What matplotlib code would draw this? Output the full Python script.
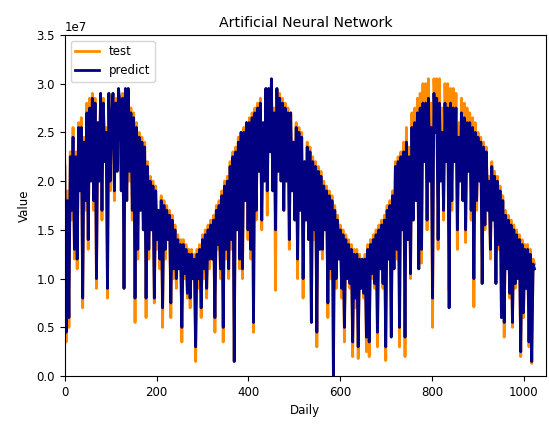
import numpy as np
import matplotlib
matplotlib.use("Agg")
import matplotlib.pyplot as plt

# values in units of 1e7, one every 3 days
test = [
    2.2, 0.35, 1.9, 0.5, 2.3, 1.6, 2.55, 1.2, 2.3, 1.1, 2.6, 1.9, 2.65, 0.7, 2.45, 1.7, 2.8, 1.3, 2.85, 2.0,
    2.9, 1.7, 2.85, 0.9, 2.6, 2.0, 2.9, 1.6, 2.85, 2.2, 2.55, 0.8, 2.9, 1.9, 2.7, 2.9, 1.8, 2.85, 2.1, 2.9,
    2.85, 1.9, 2.9, 0.9, 2.9, 1.8, 2.95, 2.0, 2.75, 1.6, 2.7, 0.55, 2.6, 1.2, 2.5, 1.7, 2.45, 1.5, 2.4, 0.6,
    2.2, 1.2, 2.05, 1.5, 2.0, 0.75, 1.95, 1.3, 1.7, 1.1, 1.85, 0.5, 1.8, 1.2, 1.75, 1.4, 1.7, 0.6, 1.65, 1.0,
    1.55, 0.9, 1.45, 1.1, 1.4, 0.35, 1.4, 1.0, 1.35, 0.8, 1.3, 0.7, 1.3, 1.0, 1.25, 0.15, 1.3, 0.9, 1.35, 0.6,
    1.45, 1.0, 1.5, 0.8, 1.55, 1.1, 1.6, 1.2, 1.65, 0.45, 1.75, 1.3, 1.8, 1.0, 1.9, 0.35, 2.0, 1.2, 2.05, 1.0,
    2.2, 1.3, 2.3, 0.15, 2.35, 1.5, 2.45, 1.1, 2.5, 1.0, 2.55, 1.8, 2.6, 1.4, 2.65, 1.2, 2.7, 0.45, 2.75, 1.6,
    2.8, 2.1, 2.85, 1.5, 2.6, 2.0, 2.95, 1.65, 2.95, 2.3, 3.0, 1.9, 2.75, 0.88, 2.95, 2.1, 2.9, 2.0, 2.85, 1.7,
    2.8, 2.0, 2.75, 1.3, 2.7, 1.9, 2.4, 1.6, 2.6, 1.0, 2.55, 1.7, 2.5, 0.8, 2.2, 1.6, 2.4, 1.4, 2.35, 0.6,
    2.25, 1.4, 2.2, 0.3, 2.15, 1.3, 2.1, 1.2, 2.0, 1.5, 1.95, 0.6, 1.9, 1.0, 1.85, 1.1, 1.75, 0.9, 1.65, 1.2,
    1.55, 0.8, 1.5, 0.35, 1.45, 1.0, 1.4, 0.9, 1.35, 0.2, 1.3, 0.7, 1.3, 0.18, 1.25, 0.9, 1.2, 0.8, 1.25, 0.25,
    1.35, 0.2, 1.4, 1.0, 1.45, 0.9, 1.5, 0.3, 1.55, 1.1, 1.6, 0.9, 1.65, 0.16, 1.75, 1.2, 1.8, 0.5, 1.9, 1.1,
    2.2, 1.2, 2.25, 0.3, 2.3, 1.5, 2.4, 0.2, 2.55, 1.4, 2.35, 1.0, 2.7, 1.6, 2.75, 1.8, 2.85, 1.1, 2.9, 1.16,
    3.0, 2.2, 3.0, 1.5, 3.05, 2.0, 2.8, 0.5, 3.05, 2.5, 3.05, 1.3, 3.05, 2.0, 2.75, 1.6, 3.0, 2.2, 3.0, 0.88,
    2.95, 1.7, 2.95, 2.2, 2.9, 1.3, 2.6, 2.0, 2.85, 1.8, 2.8, 1.37, 2.75, 2.1, 2.7, 1.6, 2.65, 0.71, 2.6, 1.7,
    2.5, 2.0, 2.45, 0.95, 2.4, 1.5, 2.35, 1.7, 2.05, 1.2, 2.2, 1.6, 2.1, 0.95, 2.05, 1.3, 1.95, 0.6, 1.85, 0.4,
    1.7, 1.1, 1.65, 0.8, 1.6, 0.5, 1.55, 0.9, 1.5, 1.0, 1.45, 0.2, 1.4, 0.6, 1.35, 0.9, 1.35, 0.3, 1.3, 0.13,
    1.2, 1.15,
]
predict = [
    2.15, 0.45, 1.8, 0.6, 2.25, 1.7, 2.45, 1.3, 2.25, 1.2, 2.55, 1.9, 2.55, 0.8, 2.4, 1.8, 2.7, 1.4, 2.75, 2.0,
    2.85, 1.8, 2.8, 1.0, 2.6, 2.0, 2.9, 1.7, 2.8, 2.2, 2.5, 0.9, 2.9, 2.0, 2.65, 2.9, 1.9, 2.8, 2.1, 2.95,
    2.8, 1.9, 2.85, 0.9, 2.95, 1.8, 2.95, 2.1, 2.7, 1.7, 2.65, 0.8, 2.55, 1.3, 2.45, 1.7, 2.4, 1.5, 2.35, 0.8,
    2.15, 1.3, 2.0, 1.5, 1.95, 0.8, 1.9, 1.4, 1.7, 1.2, 1.8, 0.7, 1.75, 1.3, 1.7, 1.4, 1.65, 0.75, 1.6, 1.1,
    1.5, 1.0, 1.4, 1.1, 1.35, 0.5, 1.35, 1.05, 1.3, 0.85, 1.25, 0.8, 1.25, 1.0, 1.2, 0.3, 1.25, 1.0, 1.3, 0.7,
    1.4, 1.1, 1.45, 0.9, 1.5, 1.2, 1.55, 1.2, 1.6, 0.6, 1.7, 1.35, 1.75, 1.1, 1.85, 0.5, 1.95, 1.3, 2.0, 1.1,
    2.15, 1.4, 2.25, 0.15, 2.3, 1.5, 2.4, 1.2, 2.5, 1.1, 2.5, 1.8, 2.6, 1.5, 2.6, 1.3, 2.65, 0.55, 2.7, 1.7,
    2.75, 2.1, 2.8, 1.6, 2.6, 2.0, 2.95, 1.9, 2.95, 2.3, 3.05, 1.9, 2.7, 1.5, 2.95, 2.1, 2.85, 2.0, 2.8, 1.7,
    2.75, 2.0, 2.7, 1.4, 2.7, 1.9, 2.4, 1.6, 2.55, 1.2, 2.5, 1.7, 2.45, 1.0, 2.2, 1.6, 2.35, 1.4, 2.3, 0.55,
    2.2, 1.5, 2.15, 0.45, 2.1, 1.3, 2.05, 1.3, 1.95, 1.5, 1.9, 0.75, 1.85, 1.1, 1.8, 0.0, 1.7, 1.0, 1.6, 1.2,
    1.5, 0.9, 1.45, 0.5, 1.4, 1.0, 1.35, 0.95, 1.3, 0.35, 1.25, 0.8, 1.25, 0.3, 1.2, 0.9, 1.2, 0.85, 1.2, 0.4,
    1.3, 0.35, 1.35, 1.05, 1.4, 0.95, 1.45, 0.45, 1.5, 1.1, 1.55, 0.95, 1.6, 0.3, 1.7, 1.2, 1.75, 0.4, 1.85, 1.1,
    2.15, 1.3, 2.2, 0.5, 2.25, 1.5, 2.3, 0.4, 2.4, 1.4, 2.25, 1.05, 2.55, 1.6, 2.6, 1.8, 2.7, 1.1, 2.75, 1.3,
    2.8, 2.2, 2.8, 1.6, 2.85, 2.0, 2.55, 0.8, 2.9, 2.5, 2.85, 1.4, 2.8, 2.0, 2.5, 1.7, 2.8, 2.2, 2.75, 0.7,
    2.8, 1.8, 2.75, 2.2, 2.75, 1.5, 2.45, 2.0, 2.7, 1.8, 2.65, 1.5, 2.6, 2.1, 2.6, 1.7, 2.55, 1.0, 2.5, 1.8,
    2.45, 2.0, 2.4, 0.95, 2.35, 1.55, 2.3, 1.7, 2.0, 1.3, 2.15, 1.6, 2.05, 0.95, 2.0, 1.35, 1.9, 0.6, 1.8, 0.55,
    1.65, 1.1, 1.6, 0.85, 1.55, 0.55, 1.5, 0.95, 1.45, 1.0, 1.4, 0.25, 1.35, 0.65, 1.3, 0.9, 1.3, 0.35, 1.25, 0.15,
    1.15, 1.1,
]
days = np.arange(0, 3 * len(test), 3)

fig = plt.figure(figsize=(5.49, 4.25), dpi=100)
ax = fig.add_axes([0.118, 0.115, 0.8765, 0.803])
ax.plot(days, np.array(test) * 1e7, color="darkorange", lw=2.0, label="test")
ax.plot(days, np.array(predict) * 1e7, color="navy", lw=2.0, label="predict")
ax.set_xlim(0, 1048)
ax.set_ylim(0, 3.5e7)
ax.set_title("Artificial Neural Network", fontsize=10.2)
ax.set_xlabel("Daily", fontsize=8.5)
ax.set_ylabel("Value", fontsize=8.5)
ax.tick_params(labelsize=8.5)
ax.yaxis.get_offset_text().set_fontsize(8.5)
ax.legend(loc="upper left", fontsize=8.5)
plt.savefig("out.png", dpi=100)
